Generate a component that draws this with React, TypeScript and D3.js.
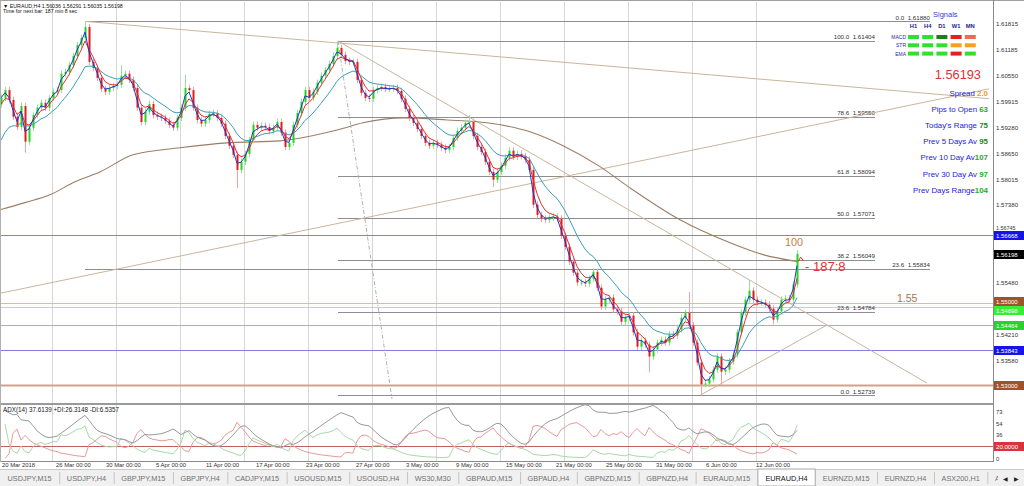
import React from "react";
import * as d3 from "d3";

// ---------------- DATA ----------------
const closes = [
  1.6001, 1.6020, 1.5996, 1.5955, 1.5930, 1.5981, 1.5894, 1.5928, 1.5959, 1.5977,
  1.5989, 1.5977, 1.6001, 1.6016, 1.6020, 1.6060, 1.6064, 1.6081, 1.6103, 1.6130,
  1.6147, 1.6174, 1.6089, 1.6074, 1.6050, 1.6023, 1.6016, 1.6025, 1.6030, 1.6033,
  1.6055, 1.6060, 1.6045, 1.6025, 1.5977, 1.5942, 1.5967, 1.5986, 1.5959, 1.5955,
  1.5952, 1.5945, 1.5935, 1.5928, 1.5952, 1.5977, 1.6025, 1.6020, 1.5977, 1.5947,
  1.5938, 1.5947, 1.5962, 1.5964, 1.5952, 1.5938, 1.5908, 1.5884, 1.5862, 1.5825,
  1.5845, 1.5864, 1.5898, 1.5935, 1.5928, 1.5933, 1.5930, 1.5920, 1.5928, 1.5942,
  1.5916, 1.5881, 1.5891, 1.5935, 1.5964, 1.5991, 1.6020, 1.6001, 1.6016, 1.6038,
  1.6055, 1.6069, 1.6084, 1.6103, 1.6123, 1.6106, 1.6091, 1.6089, 1.6089, 1.6045,
  1.6013, 1.6001, 1.5999, 1.6020, 1.6025, 1.6028, 1.6023, 1.6023, 1.6025, 1.6018,
  1.5999, 1.5974, 1.5952, 1.5940, 1.5925, 1.5908, 1.5891, 1.5884, 1.5891, 1.5886,
  1.5879, 1.5874, 1.5881, 1.5903, 1.5920, 1.5928, 1.5940, 1.5942, 1.5908, 1.5881,
  1.5869, 1.5845, 1.5820, 1.5801, 1.5820, 1.5835, 1.5855, 1.5872, 1.5857, 1.5864,
  1.5859, 1.5850, 1.5825, 1.5740, 1.5715, 1.5706, 1.5703, 1.5708, 1.5711, 1.5706,
  1.5664, 1.5637, 1.5601, 1.5574, 1.5550, 1.5550, 1.5547, 1.5559, 1.5576, 1.5537,
  1.5491, 1.5508, 1.5513, 1.5484, 1.5479, 1.5454, 1.5464, 1.5469, 1.5428, 1.5393,
  1.5408, 1.5398, 1.5369, 1.5386, 1.5403, 1.5410, 1.5403, 1.5423, 1.5420, 1.5435,
  1.5464, 1.5476, 1.5445, 1.5403, 1.5354, 1.5301, 1.5303, 1.5313, 1.5337, 1.5369,
  1.5332, 1.5337, 1.5357, 1.5374, 1.5428, 1.5476, 1.5508, 1.5530, 1.5508, 1.5501,
  1.5501, 1.5496, 1.5486, 1.5459, 1.5479, 1.5508, 1.5511, 1.5508, 1.5545, 1.5620,
];
const firstOpen = 1.5985;
const defaultWick = 0.0008;
// [candle index, high, low]
const wickOverrides: [number, number | null, number | null][] = [
  [6, null, 1.5867], [21, 1.6188, null], [30, 1.6081, null], [46, 1.6058, null],
  [59, null, 1.5781], [84, 1.6140, null], [117, 1.5959, null], [123, null, 1.5783],
  [162, null, 1.5330], [172, 1.5527, null], [175, null, 1.5274], [180, null, 1.5300],
  [187, 1.5556, null], [193, null, 1.5447], [199, 1.56291, null],
];
// slow (200) moving average: [candle index, price]
const maBrown: [number, number][] = [
  [0, 1.5728], [6, 1.5745], [12.25, 1.5764], [18.5, 1.5796], [24.75, 1.5820],
  [33, 1.5862], [44.75, 1.5879], [56.5, 1.5891], [69.75, 1.5896], [84.25, 1.5923],
  [90.5, 1.5940], [100.5, 1.5952], [111.5, 1.5947], [121.5, 1.5940], [132.25, 1.5918],
  [140.5, 1.5884], [149.75, 1.5833], [157.25, 1.5781], [169.75, 1.5703], [182.25, 1.5647],
  [190.5, 1.5618], [199, 1.5601],
];
const emaPeriods = [2, 4, 12]; // blue, red, teal
const emaSeeds = [1.6001, 1.5975, 1.5879];
const adxPeriod = 6;
const adxSeed = 70;

const priceTicks = [1.61815, 1.61185, 1.6055, 1.59915, 1.5928, 1.5865, 1.58015, 1.5738,
  1.56745, 1.5548, 1.5421, 1.5358];
const adxTicks = [73, 54, 36, 0];
const adxLevel = 20;

const fibALevels = ["100.0", "78.6", "61.8", "50.0", "38.2", "23.6", "0.0"];
const fibAPrices = [1.61404, 1.5955, 1.58094, 1.57071, 1.56049, 1.54784, 1.52739];
const fibASpan = [84.25, 218.5];
const fibBLevels = ["0.0", "23.6"];
const fibBPrices = [1.6188, 1.55834];
const fibBSpan = [21, 232.25];

const hLinePrices = [1.56668, 1.55, 1.54898, 1.54464, 1.53843, 1.53];
const hLineKinds = ["blue", "brown", "lime", "green", "blue", "brownThick"];
const currentPrice = 1.56198;

// [idx1, price1, idx2, price2]
const trendLines: [number, number, number, number][] = [
  [0, 1.5524, 247, 1.6023],
  [21, 1.6188, 247, 1.5999],
  [84.25, 1.6140, 231.5, 1.5304],
  [175.25, 1.5277, 206.5, 1.5446],
];
const fibDiagonal: [number, number, number, number] = [84.25, 1.6140, 97.75, 1.5265];

const dateLabels = ["20 Mar 2018", "26 Mar 00:00", "30 Mar 00:00", "5 Apr 00:00", "11 Apr 00:00",
  "17 Apr 00:00", "23 Apr 00:00", "27 Apr 00:00", "3 May 00:00", "9 May 00:00", "15 May 00:00",
  "21 May 00:00", "25 May 00:00", "31 May 00:00", "6 Jun 00:00", "12 Jun 00:00"];
const dateIdx = [0, 13.5, 26, 38.5, 51, 63.5, 76, 88.5, 101, 113.5, 126, 138.5, 151, 163.5, 176, 188.5];

const tabs = ["USDJPY,M15", "USDJPY,H4", "GBPJPY,M15", "GBPJPY,H4", "CADJPY,M15", "USOUSD,M15",
  "USOUSD,H4", "WS30,M30", "GBPAUD,M15", "GBPAUD,H4", "GBPNZD,M15", "GBPNZD,H4", "EURAUD,M15",
  "EURAUD,H4", "EURNZD,M15", "EURNZD,H4", "ASX200,H1", "A!"];
const activeTab = "EURAUD,H4";

const signalCols = ["H1", "H4", "D1", "W1", "MN"];
const signalRows = ["MACD", "STR", "EMA"];
const signalStates = [
  ["up", "up", "upDark", "down", "downLight"],
  ["up", "up", "up", "warn", "warn"],
  ["up", "up", "up", "down", "up"],
];
const bidText = "1.56193";
const infoLabels = ["Spread ", "Pips to Open ", "Today's Range ", "Prev 5 Days Av ", "Prev 10 Day Av", "Prev 30 Day Av ", "Prev Days Range"];
const infoValues = ["2.0", "63", "75", "95", "107", "97", "104"];
const infoKinds = ["orange", "green", "dark", "dark", "green", "green", "green"];

const headerText = "\u25BC EURAUD,H4  1.56036 1.56291 1.56035 1.56198";
const timerText = "Time for next bar: 187 min 8 sec";
const adxText = "ADX(14) 37.6139 +DI:26.3148 -DI:6.5357";

// ---------------- STYLE ----------------
const FONT = "'Liberation Sans', Arial, sans-serif";
const colors: Record<string, string> = {
  up: "#21d421", upWick: "#98e098", down: "#e21b1b", downWick: "#eea2a2",
  grid: "#d6d6d6", fib: "#8e8e8e", trend: "#c9b59c",
  blue: "#8080e0", brown: "#d9bca2", brownThick: "#d4a183", lime: "#a6e6a6", green: "#82cf82",
  boxblue: "#1414ea", boxbrown: "#a0522d", boxbrownThick: "#a0522d", boxlime: "#35ee35", boxgreen: "#28d228",
};
const sigColors: Record<string, string> = {
  up: "#2fe02f", upDark: "#207a20", down: "#e62020", downLight: "#f06a5a", warn: "#f5a020",
};
const infoColors: Record<string, string> = { orange: "#f39c00", green: "#17b017", dark: "#1a8a1a" };

let ctx: CanvasRenderingContext2D | null = null;
function measure(t: string, font: string) {
  if (!ctx && typeof document !== "undefined") ctx = document.createElement("canvas").getContext("2d");
  if (!ctx) return t.length * 4.4;
  ctx.font = font;
  return ctx.measureText(t).width;
}

function ema(values: number[], period: number, seed: number) {
  const a = 2 / (period + 1);
  const out: number[] = [];
  let e = seed;
  values.forEach((v) => { e = e + a * (v - e); out.push(e); });
  return out;
}

export default function App() {
  const W = 1024, H = 486;
  const plotRight = 993;
  const x = d3.scaleLinear().domain([0, 199]).range([1, 797]);
  const y = d3.scaleLinear().domain([1.5358, 1.61815]).range([361, 24]);
  const ya = d3.scaleLinear().domain([0, adxLevel]).range([458.5, 445.7]);

  const candles = closes.map((c, i) => {
    const o = i === 0 ? firstOpen : closes[i - 1];
    let h = Math.max(o, c) + defaultWick;
    let l = Math.min(o, c) - defaultWick;
    const ov = wickOverrides.find((w) => w[0] === i);
    if (ov) { if (ov[1] != null) h = ov[1]; if (ov[2] != null) l = ov[2]; }
    return { i, o, h, l, c };
  });

  const emas = emaPeriods.map((p, k) => ema(closes, p, emaSeeds[k]));
  const emaColors = ["#2038c8", "#e23030", "#3d9fb6"];
  const lineGen = d3.line<number>().x((_, i) => x(i)).y((v) => y(v));
  const brownGen = d3.line<[number, number]>().x((d) => x(d[0])).y((d) => y(d[1])).curve(d3.curveMonotoneX);

  // ADX computation (Wilder)
  const n = adxPeriod;
  const pdi: number[] = [], mdi: number[] = [], adx: number[] = [];
  let sTR = 0, sP = 0, sM = 0, aVal = adxSeed;
  for (let i = 1; i < candles.length; i++) {
    const c = candles[i], p = candles[i - 1];
    const tr = Math.max(c.h - c.l, Math.abs(c.h - p.c), Math.abs(c.l - p.c));
    const up = c.h - p.h, dn = p.l - c.l;
    const pdm = up > dn && up > 0 ? up : 0;
    const mdm = dn > up && dn > 0 ? dn : 0;
    if (i === 1) { sTR = tr; sP = pdm; sM = mdm; }
    else { sTR = sTR - sTR / n + tr; sP = sP - sP / n + pdm; sM = sM - sM / n + mdm; }
    const P = (100 * sP) / sTR, M = (100 * sM) / sTR;
    const dx = P + M === 0 ? 0 : (100 * Math.abs(P - M)) / (P + M);
    aVal = (aVal * (n - 1) + dx) / n;
    pdi.push(P); mdi.push(M); adx.push(aVal);
  }
  const adxLine = d3.line<number>().x((_, i) => x(i + 1)).y((v) => ya(v));

  const gridXs = d3.range(12.75, 200, 16).map((i) => x(i)).filter((v) => v < plotRight);

  const tabFont = `7.3px ${FONT}`;
  let cursor = 0;
  const tabLayout = tabs.map((t) => {
    const w = measure(t, tabFont) + 15.2;
    const r = { t, x0: cursor, w };
    cursor += w;
    return r;
  });

  // axis boxes; stacked boxes that collide are nudged apart so their labels stay legible
  const boxes = [
    ...hLinePrices.map((p, k) => ({ p, fill: colors["box" + hLineKinds[k]] })),
    { p: currentPrice, fill: "#000000" },
  ].map((b) => ({ ...b, cy: Math.round(y(b.p)) }));
  boxes.sort((a, b) => a.cy - b.cy);
  for (let k = 1; k < boxes.length; k++) {
    const gap = boxes[k].cy - boxes[k - 1].cy;
    if (gap < 8) { const d = (8 - gap) / 2; boxes[k - 1].cy -= Math.ceil(d); boxes[k].cy += Math.floor(d) + 1; }
  }

  const sigX0 = 913.5, sigDx = 14.2;

  return (
    <svg width={W} height={H} style={{ position: "absolute", left: 0, top: 0, background: "#fff" }} fontFamily={FONT}>
      <defs>
        <clipPath id="main"><rect x={0} y={2} width={plotRight} height={401} /></clipPath>
        <clipPath id="sub"><rect x={0} y={405} width={plotRight} height={56} /></clipPath>
      </defs>
      <rect x={0} y={0} width={W} height={H} fill="#ffffff" />

      {gridXs.map((gx, k) => (
        <line key={"g" + k} x1={Math.round(gx) + 0.5} x2={Math.round(gx) + 0.5} y1={2} y2={461} stroke={colors.grid} strokeWidth={1} />
      ))}

      <g clipPath="url(#main)">
        {hLinePrices.map((p, k) => (
          <line key={"h" + k} x1={0} x2={plotRight} y1={Math.round(y(p)) + 0.5} y2={Math.round(y(p)) + 0.5}
            stroke={colors[hLineKinds[k]]} strokeWidth={hLineKinds[k] === "brownThick" ? 2 : 1} />
        ))}
        {fibAPrices.map((p, k) => (
          <g key={"fa" + k}>
            <line x1={x(fibASpan[0])} x2={x(fibASpan[1])} y1={Math.round(y(p)) + 0.5} y2={Math.round(y(p)) + 0.5} stroke={colors.fib} strokeWidth={1} />
            <text x={x(fibASpan[1])} y={y(p) - 1.8} fontSize={6.2} fill="#333" textAnchor="end">{fibALevels[k]}{"\u00A0\u00A0"}{p.toFixed(5)}</text>
          </g>
        ))}
        {fibBPrices.map((p, k) => (
          <g key={"fb" + k}>
            <line x1={x(fibBSpan[0])} x2={x(fibBSpan[1])} y1={Math.round(y(p)) + 0.5} y2={Math.round(y(p)) + 0.5} stroke={colors.fib} strokeWidth={1} />
            <text x={x(fibBSpan[1])} y={y(p) - 1.8} fontSize={6.2} fill="#333" textAnchor="end">{fibBLevels[k]}{"\u00A0\u00A0"}{p.toFixed(5)}</text>
          </g>
        ))}
        {trendLines.map((t, k) => (
          <line key={"t" + k} x1={x(t[0])} y1={y(t[1])} x2={x(t[2])} y2={y(t[3])} stroke={colors.trend} strokeWidth={1} />
        ))}
        <line x1={x(fibDiagonal[0])} y1={y(fibDiagonal[1])} x2={x(fibDiagonal[2])} y2={y(fibDiagonal[3])}
          stroke="#b0b0b0" strokeWidth={1} strokeDasharray="4,2,1,2" />

        <path d={brownGen(maBrown) || ""} fill="none" stroke="#9c7e64" strokeWidth={1.1} />

        {candles.map((d) => {
          const up = d.c >= d.o;
          const cx = Math.round(x(d.i));
          const top = y(Math.max(d.o, d.c)), bot = y(Math.min(d.o, d.c));
          return (
            <g key={"c" + d.i}>
              <line x1={cx + 0.5} x2={cx + 0.5} y1={y(d.h)} y2={y(d.l)} stroke={up ? colors.upWick : colors.downWick} strokeWidth={1} />
              <rect x={cx - 0.5} y={top} width={2} height={Math.max(1, bot - top)} fill={up ? colors.up : colors.down} />
            </g>
          );
        })}

        {[2, 1, 0].map((k) => (
          <path key={"e" + k} d={lineGen(emas[k]) || ""} fill="none" stroke={emaColors[k]} strokeWidth={1} />
        ))}

        <text x={x(196)} y={y(1.5640)} fontSize={10.8} fill="#c0804a">100</text>
        <path d={`M${x(199.3)},${y(1.5601)} L${x(199.9)},${y(1.5612)} L${x(200.6)},${y(1.5603)}`} fill="none" stroke="#e03030" strokeWidth={1} />
        <text x={x(201)} y={y(1.5577)} fontSize={13} fill="#e2302e">{"- 187:8"}</text>
        <text x={x(224)} y={y(1.5502)} fontSize={10.5} fill="#b2723e">1.55</text>
      </g>

      {/* signals panel */}
      <text x={933} y={17} fontSize={7.5} fill="#3c3cc8">Signals</text>
      {signalCols.map((c, k) => (
        <text key={"sc" + k} x={sigX0 + k * sigDx} y={28} fontSize={5.8} fontWeight="bold" fill="#1c1c8c" textAnchor="middle">{c}</text>
      ))}
      {signalRows.map((r, j) => (
        <g key={"sr" + j}>
          <text x={906} y={39 + j * 8.3} fontSize={5} fill="#2a2aa0" textAnchor="end">{r}</text>
          {signalStates[j].map((s, k) => (
            <rect key={k} x={sigX0 + k * sigDx - 5.5} y={35 + j * 8.3} width={11} height={4} fill={sigColors[s]} />
          ))}
        </g>
      ))}
      <text x={981} y={78.5} fontSize={12.8} fill="#dc3434" textAnchor="end">{bidText}</text>
      {infoLabels.map((l, k) => (
        <text key={"i" + k} x={988} y={96 + k * 16.1} fontSize={7.9} textAnchor="end">
          <tspan fill="#1c1cd8">{l}</tspan>
          <tspan fill={infoColors[infoKinds[k]]} fontWeight="bold">{infoValues[k]}</tspan>
        </text>
      ))}

      {/* header */}
      <text x={3} y={8} fontSize={5.3} fill="#111">{headerText}</text>
      <text x={3} y={12.5} fontSize={5.2} fill="#111">{timerText}</text>

      {/* ADX sub window */}
      <g clipPath="url(#sub)">
        <line x1={0} x2={plotRight} y1={Math.round(ya(adxLevel)) + 0.5} y2={Math.round(ya(adxLevel)) + 0.5} stroke="#c06060" strokeWidth={1} />
        <path d={adxLine(mdi) || ""} fill="none" stroke="#e89a9a" strokeWidth={1} />
        <path d={adxLine(pdi) || ""} fill="none" stroke="#a6dca6" strokeWidth={1} />
        <path d={adxLine(adx) || ""} fill="none" stroke="#9a9a9a" strokeWidth={1} />
      </g>
      <text x={3} y={412} fontSize={6.3} fill="#222">{adxText}</text>

      {/* frames */}
      <line x1={0} x2={W} y1={0.5} y2={0.5} stroke="#a0a0a0" />
      <line x1={0} x2={plotRight} y1={404} y2={404} stroke="#9a9a9a" strokeWidth={2} />
      <line x1={0} x2={plotRight} y1={461.5} y2={461.5} stroke="#8a8a8a" strokeWidth={1} />
      <line x1={plotRight + 0.5} x2={plotRight + 0.5} y1={0} y2={462} stroke="#8a8a8a" strokeWidth={1} />
      <line x1={0.5} x2={0.5} y1={0} y2={462} stroke="#b0b0b0" strokeWidth={1} />

      {/* price axis */}
      {priceTicks.map((p, k) => {
        const near = boxes.some((b) => Math.abs(b.cy - y(p)) < 6);
        return (
          <text key={"p" + k} x={996} y={y(p) + (near ? -1.5 : 2)} fontSize={near ? 5.4 : 6.1} fill="#333">{p.toFixed(5)}</text>
        );
      })}
      {boxes.map((b, k) => (
        <g key={"b" + k}>
          <rect x={994} y={b.cy - 4} width={30} height={9} fill={b.fill} />
          <text x={996} y={b.cy + 2.5} fontSize={6} fill="#fff">{b.p.toFixed(5)}</text>
        </g>
      ))}
      {adxTicks.map((v, k) => (
        <text key={"a" + k} x={996} y={ya(v) + 2} fontSize={5.8} fill="#333">{v}</text>
      ))}
      <rect x={994} y={Math.round(ya(adxLevel)) - 4} width={30} height={9} fill="#d8343c" />
      <text x={996} y={Math.round(ya(adxLevel)) + 2.5} fontSize={6.1} fill="#fff">{adxLevel.toFixed(4)}</text>

      {/* date axis */}
      {dateLabels.map((d, k) => (
        <text key={"d" + k} x={x(dateIdx[k]) + 1} y={467} fontSize={5.9} fill="#333">{d}</text>
      ))}

      {/* tabs */}
      <rect x={0} y={469} width={W} height={17} fill="#f0f0f0" />
      <line x1={0} x2={W} y1={469.5} y2={469.5} stroke="#c8c8c8" />
      {tabLayout.map((t, k) => {
        const active = t.t === activeTab;
        return (
          <g key={"tab" + k}>
            {active && <rect x={t.x0} y={469} width={t.w} height={17} fill="#ffffff" stroke="#a8a8a8" />}
            {!active && <line x1={t.x0 + t.w + 0.5} x2={t.x0 + t.w + 0.5} y1={472} y2={484} stroke="#c4c4c4" />}
            <text x={t.x0 + t.w / 2} y={481} fontSize={7.3} fill={active ? "#111" : "#707070"} textAnchor="middle">{t.t}</text>
          </g>
        );
      })}
      <rect x={998} y={470} width={26} height={16} fill="#f0f0f0" />
      <text x={1003} y={481} fontSize={6} fill="#222">{"\u25C0"}</text>
      <text x={1014} y={481} fontSize={6} fill="#222">{"\u25B6"}</text>
    </svg>
  );
}
